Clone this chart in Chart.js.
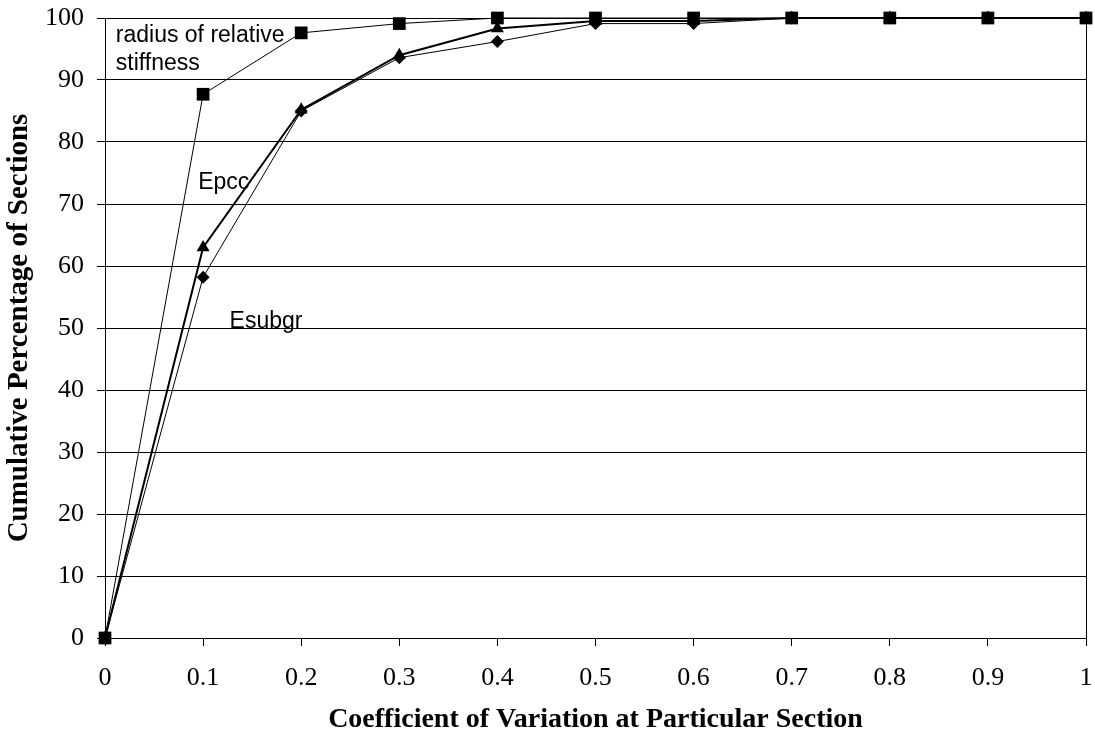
<!DOCTYPE html>
<html>
<head>
<meta charset="utf-8">
<script src="https://cdn.jsdelivr.net/npm/chart.js@4"></script>
<style>
  html, body { margin: 0; padding: 0; background: #fff; }
  #wrap { width: 1095px; height: 738px; }
</style>
</head>
<body>
<div id="wrap"><canvas id="c" width="1095" height="738"></canvas></div>
<script>
// ---- Data ----
const cv = [0, 0.1, 0.2, 0.3, 0.4, 0.5, 0.6, 0.7, 0.8, 0.9, 1];
const radiusStiffness = [0, 87.7, 97.6, 99.1, 100, 100, 100, 100, 100, 100, 100];
const epcc = [0, 63.0, 85.2, 94.0, 98.3, 99.5, 99.5, 100, 100, 100, 100];
const esubgr = [0, 58.2, 85.0, 93.6, 96.2, 99.1, 99.1, 100, 100, 100, 100];
const seriesNames = ['radius of relative stiffness', 'Epcc', 'Esubgr'];
const xTitle = 'Coefficient of Variation at Particular Section';
const yTitle = 'Cumulative Percentage of Sections';
const labelTexts = [
  { lines: ['radius of relative', 'stiffness'], x: 0.011, y: 96.1 },
  { lines: ['Epcc'], x: 0.095, y: 72.4 },
  { lines: ['Esubgr'], x: 0.127, y: 50.0 }
];

const toPts = (ys) => cv.map((x, i) => ({ x: x, y: ys[i] }));

const labelPlugin = {
  id: 'labels',
  afterDatasetsDraw(chart) {
    const { ctx, scales: { x, y }, chartArea } = chart;
    ctx.save();
    // right border of plot area
    ctx.strokeStyle = '#000';
    ctx.lineWidth = 1;
    ctx.beginPath();
    const rx = Math.round(chartArea.right) + 0.5;
    ctx.moveTo(rx, chartArea.top);
    ctx.lineTo(rx, chartArea.bottom);
    ctx.stroke();
    ctx.fillStyle = '#000';
    ctx.font = '23px "Liberation Sans", Arial, sans-serif';
    ctx.textBaseline = 'alphabetic';
    ctx.textAlign = 'left';
    labelTexts.forEach(l => {
      const px = x.getPixelForValue(l.x);
      const py = y.getPixelForValue(l.y);
      l.lines.forEach((t, i) => ctx.fillText(t, px, py + i * 28));
    });
    ctx.restore();
  }
};

new Chart(document.getElementById('c'), {
  type: 'line',
  data: {
    datasets: [
      {
        label: seriesNames[0],
        data: toPts(radiusStiffness),
        borderColor: '#000', backgroundColor: '#000',
        borderWidth: 1,
        pointStyle: 'rect', pointRadius: 9, pointHoverRadius: 9,
        pointBorderWidth: 0
      },
      {
        label: seriesNames[1],
        data: toPts(epcc),
        borderColor: '#000', backgroundColor: '#000',
        borderWidth: 2,
        pointStyle: 'triangle', pointRadius: 7.5, pointHoverRadius: 7.5,
        pointBorderWidth: 0
      },
      {
        label: seriesNames[2],
        data: toPts(esubgr),
        borderColor: '#000', backgroundColor: '#000',
        borderWidth: 1,
        pointStyle: 'rectRot', pointRadius: 6.5, pointHoverRadius: 6.5,
        pointBorderWidth: 0
      }
    ]
  },
  options: {
    responsive: false,
    animation: false,
    clip: false,
    layout: { autoPadding: false, padding: { top: 18, right: 9, left: 0, bottom: 0 } },
    plugins: {
      legend: { display: false },
      tooltip: { enabled: false }
    },
    elements: { line: { tension: 0 } },
    scales: {
      x: {
        type: 'linear',
        min: 0, max: 1,
        afterFit: (s) => { s.height = 100; s.paddingLeft = 0; s.paddingRight = 9; },
        afterBuildTicks: (s) => { s.ticks = cv.map(v => ({ value: v })); },
        ticks: {
          color: '#000',
          padding: 17,
          maxRotation: 0,
          font: { family: '"Liberation Serif", "Times New Roman", serif', size: 26 },
          callback: (v) => String(Math.round(v * 10) / 10)
        },
        grid: { drawOnChartArea: false, drawTicks: true, tickLength: 8, color: '#000', lineWidth: 1 },
        border: { display: true, color: '#000', width: 1 },
        title: {
          display: true,
          text: xTitle,
          color: '#000',
          padding: { top: 0, bottom: 1 },
          font: { family: '"Liberation Serif", "Times New Roman", serif', size: 28, weight: 'bold' }
        }
      },
      y: {
        type: 'linear',
        min: 0, max: 100,
        afterFit: (s) => { s.width = 105; s.paddingTop = 0; s.paddingBottom = 0; },
        ticks: {
          stepSize: 10,
          color: '#000',
          padding: 13,
          font: { family: '"Liberation Serif", "Times New Roman", serif', size: 26 }
        },
        grid: { drawTicks: true, tickLength: 8, color: '#000', lineWidth: 1 },
        border: { display: true, color: '#000', width: 1 },
        title: {
          display: true,
          text: yTitle,
          color: '#000',
          padding: { top: 2, bottom: 0 },
          font: { family: '"Liberation Serif", "Times New Roman", serif', size: 29, weight: 'bold' }
        }
      }
    }
  },
  plugins: [labelPlugin]
});
</script>
</body>
</html>
